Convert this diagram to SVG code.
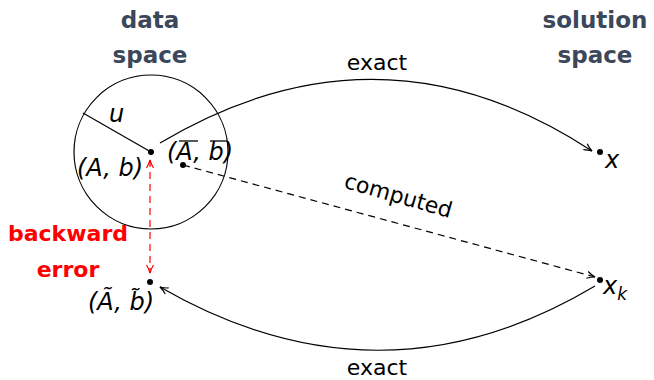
<svg xmlns="http://www.w3.org/2000/svg" width="654" height="380" viewBox="0 0 654 380">
<defs>
<style>
.title{font-family:"DejaVu Sans",sans-serif;font-weight:bold;font-size:23px;fill:#3b475a;text-anchor:middle}
.red{font-family:"DejaVu Sans",sans-serif;font-weight:bold;font-size:22px;fill:#ff0000;text-anchor:middle}
.lab{font-family:"DejaVu Sans",sans-serif;font-size:22px;fill:#000}
.math{font-family:"DejaVu Sans",sans-serif;font-style:oblique;font-size:24px;fill:#000}
.edge{fill:none;stroke:#000;stroke-width:1.2}
.dash{stroke-dasharray:7 5}
.dot{fill:#000}
</style>
<marker id="ah" viewBox="0 0 10 10" refX="9" refY="5" markerWidth="10" markerHeight="10" markerUnits="userSpaceOnUse" orient="auto-start-reverse">
<path d="M1,1.5 Q5,4 9,5 Q5,6 1,8.5" fill="none" stroke="#000" stroke-width="1.2"/>
</marker>
<marker id="ahr" viewBox="0 0 10 10" refX="9" refY="5" markerWidth="10" markerHeight="10" markerUnits="userSpaceOnUse" orient="auto-start-reverse">
<path d="M1,1.5 Q5,4 9,5 Q5,6 1,8.5" fill="none" stroke="#ff0000" stroke-width="1.2"/>
</marker>
</defs>
<rect width="654" height="380" fill="#fff"/>

<g id="titles">
<text class="title" x="150" y="28">data</text>
<text class="title" x="150" y="63">space</text>
<text class="title" x="595" y="28">solution</text>
<text class="title" x="595" y="63">space</text>
</g>

<g id="data-region">
<circle cx="151" cy="152" r="77" fill="none" stroke="#000" stroke-width="1.2"/>
<line x1="151" y1="152" x2="83" y2="113" stroke="#000" stroke-width="1.2"/>
<text class="math" x="109" y="122">u</text>
</g>

<g id="connectors">
<path class="edge" d="M160,143 Q380,12 592,151" marker-end="url(#ah)"/>
<path class="edge dash" d="M183,165 L595,277" marker-end="url(#ah)"/>
<path class="edge" d="M595,286 Q380,414 160,287" marker-end="url(#ah)"/>
<line x1="150" y1="160" x2="150" y2="273" fill="none" stroke="#ff0000" stroke-width="1.2" stroke-dasharray="7 5" marker-start="url(#ahr)" marker-end="url(#ahr)"/>
<text class="lab" x="377" y="70" text-anchor="middle">exact</text>
<text class="lab" x="377" y="375" text-anchor="middle">exact</text>
<text class="lab" x="398" y="203" text-anchor="middle" transform="rotate(16 398 197)">computed</text>
</g>

<g id="node-Ab">
<circle class="dot" cx="151" cy="152" r="3"/>
<text class="math" x="77" y="176">(A, b)</text>
</g>

<g id="node-Abar">
<circle class="dot" cx="183" cy="165" r="3"/>
<text class="math" x="167" y="160">(A, b)</text>
<line x1="179" y1="141" x2="198" y2="141" stroke="#000" stroke-width="1.3"/>
<line x1="210" y1="141" x2="227" y2="141" stroke="#000" stroke-width="1.3"/>
</g>

<g id="node-Atilde">
<circle class="dot" cx="150" cy="282" r="3"/>
<text class="math" x="88" y="310">(Ã, b̃)</text>
</g>

<g id="node-x">
<circle class="dot" cx="600" cy="152" r="3"/>
<text class="math" x="605" y="168">x</text>
</g>

<g id="node-xk">
<circle class="dot" cx="600" cy="280" r="3"/>
<text class="math" x="603" y="294">x<tspan font-size="17" dy="6">k</tspan></text>
</g>

<g id="label-backward">
<text class="red" x="68" y="241">backward</text>
<text class="red" x="68" y="277">error</text>
</g>
</svg>
